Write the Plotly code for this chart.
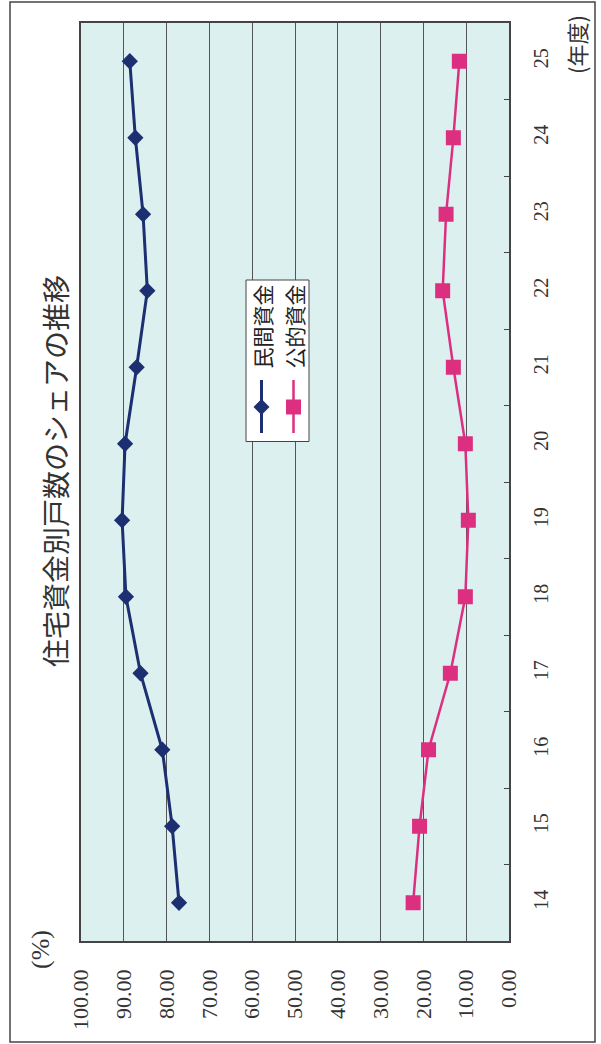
import plotly.graph_objects as go

# Fiscal years (平成) and share of housing units by funding source (%)
years = ["14", "15", "16", "17", "18", "19", "20", "21", "22", "23", "24", "25"]
private_share = [77.1, 78.7, 81.0, 86.1, 89.5, 90.4, 89.7, 87.0, 84.5, 85.5, 87.3, 88.6]
public_share = [22.4, 20.9, 18.8, 13.7, 10.2, 9.5, 10.2, 13.0, 15.5, 14.7, 13.0, 11.6]
series_names = ["民間資金", "公的資金"]
value_ticks = [0, 10, 20, 30, 40, 50, 60, 70, 80, 90, 100]
value_tick_text = [f"{v:.2f}" for v in value_ticks]

title_text = "住宅資金別戸数のシェアの推移"
unit_value = "(%)"
unit_year = "(年度)"

NAVY = "#1c2f70"
PINK = "#dc2f80"
GRID = "#555555"
SERIF = "Liberation Serif, DejaVu Serif, serif"
CJK = "Noto Sans CJK JP, Noto Sans CJK SC, sans-serif"

W, H = 601, 1044
ML, MR, MT, MB = 81, 92, 23, 103
PL, PR, PT, PB = ML, W - MR, MT, H - MB


def fx(px):
    return (px - PL) / (PR - PL)


def fy(py):
    return (PB - py) / (PB - PT)


fig = go.Figure()

# The chart is laid out sideways: value axis runs along the bottom (100 -> 0),
# the fiscal-year axis runs up the right-hand side.
fig.add_trace(go.Scatter(
    x=private_share, y=years, name=series_names[0], mode="lines+markers",
    line=dict(color=NAVY, width=3),
    marker=dict(symbol="diamond", size=12.5, color=NAVY),
    showlegend=False, cliponaxis=False,
))
fig.add_trace(go.Scatter(
    x=public_share, y=years, name=series_names[1], mode="lines+markers",
    line=dict(color=PINK, width=2.5),
    marker=dict(symbol="square", size=15, color=PINK),
    showlegend=False, cliponaxis=False,
))

shapes = []
# outer frame
shapes.append(dict(type="rect", xref="paper", yref="paper",
                   x0=fx(10), x1=fx(595), y0=fy(1042), y1=fy(2),
                   line=dict(color="#444", width=1.5), layer="below"))

# rotated legend box
shapes.append(dict(type="rect", xref="paper", yref="paper",
                   x0=fx(246), x1=fx(309), y0=fy(441.5), y1=fy(280),
                   fillcolor="white", line=dict(color="#444", width=1), layer="above"))


def key_line(cx, color, width):
    return dict(type="line", xref="paper", yref="paper",
                x0=fx(cx), x1=fx(cx), y0=fy(433), y1=fy(380),
                line=dict(color=color, width=width), layer="above")


def key_diamond(cx, cy, r, color):
    pts = [(cx, cy - r), (cx + r, cy), (cx, cy + r), (cx - r, cy)]
    path = "M " + " L ".join(f"{fx(a):.5f},{fy(b):.5f}" for a, b in pts) + " Z"
    return dict(type="path", xref="paper", yref="paper", path=path,
                fillcolor=color, line=dict(color=color, width=0), layer="above")


def key_square(cx, cy, r, color):
    return dict(type="rect", xref="paper", yref="paper",
                x0=fx(cx - r), x1=fx(cx + r), y0=fy(cy + r), y1=fy(cy - r),
                fillcolor=color, line=dict(color=color, width=0), layer="above")


shapes += [
    key_line(261.5, NAVY, 3), key_diamond(261.5, 407, 8, NAVY),
    key_line(293.5, PINK, 2.5), key_square(293.5, 407, 7.5, PINK),
]


def rotated_label(text, px, py, family, size, color="#333"):
    return dict(text=text, xref="paper", yref="paper", x=fx(px), y=fy(py),
                xanchor="center", yanchor="middle", textangle=-90, showarrow=False,
                font=dict(family=family, size=size, color=color))


annotations = [
    rotated_label(title_text, 55, 471, CJK, 28),
    rotated_label(unit_year, 576, 45, CJK, 22),
    rotated_label(unit_value, 40, 950, SERIF, 26),
    rotated_label(series_names[0], 261.5, 327, CJK, 21, "#222"),
    rotated_label(series_names[1], 293.5, 327, CJK, 21, "#222"),
]

fig.update_layout(
    width=W, height=H,
    margin=dict(l=ML, r=MR, t=MT, b=MB),
    paper_bgcolor="white",
    plot_bgcolor="#dcf0f0",
    shapes=shapes,
    annotations=annotations,
    xaxis=dict(
        range=[100, 0], tickmode="array", tickvals=value_ticks, ticktext=value_tick_text,
        tickangle=-90, ticks="", showgrid=True, gridcolor=GRID, gridwidth=1,
        zeroline=False, showline=True, mirror=True, linecolor="#444", linewidth=1.5,
        tickfont=dict(family=SERIF, size=22, color="#333"), ticklabelstandoff=18,
        fixedrange=True,
    ),
    yaxis=dict(
        type="category", categoryorder="array", categoryarray=years,
        range=[-0.5, len(years) - 0.5],
        side="right", tickangle=-90, tickson="boundaries", ticks="inside",
        ticklen=5, tickcolor="#444", showgrid=False, zeroline=False,
        showline=True, mirror=True, linecolor="#444", linewidth=1.5,
        tickfont=dict(family=SERIF, size=20, color="#333"), ticklabelstandoff=13,
        fixedrange=True,
    ),
)

fig.write_html("out.html")
